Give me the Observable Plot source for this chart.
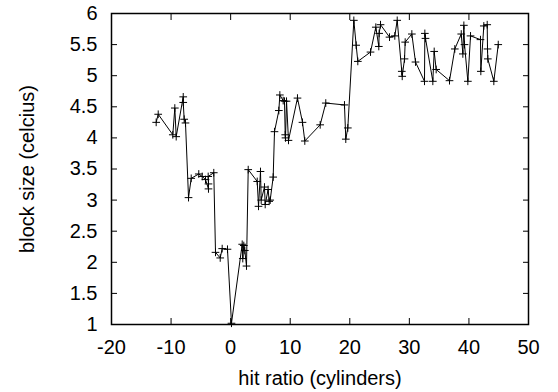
<!DOCTYPE html>
<html><head><meta charset="utf-8">
<script src="https://cdn.jsdelivr.net/npm/d3@7"></script>
<script src="https://cdn.jsdelivr.net/npm/@observablehq/plot@0.6"></script>
<style>html,body{margin:0;padding:0;background:#fff} svg{display:block}</style>
</head><body><div id="chart"></div>
<script>
const hitRatio = [
 -12.5, -12.16, -9.71, -9.37, -9.14, -7.96, -7.96, -7.80, -7.58, -7.07,
 -6.62, -5.35, -4.77, -4.22, -3.72, -3.72, -3.77, -2.83, -2.54, -1.75,
 -1.42, -0.53, 0.14, 1.94, 2.04, 2.21, 2.38, 2.66, 2.95, 4.46,
 4.68, 5.01, 5.13, 5.68, 5.80, 6.29, 6.47, 6.64, 7.14, 7.36,
 8.09, 8.26, 8.82, 9.04, 9.16, 9.21, 9.38, 9.71, 11.22, 12.06,
 12.45, 15.03, 15.97, 19.11, 19.33, 19.67, 20.68, 21.07, 21.35, 23.48,
 24.37, 24.87, 24.93, 25.16, 26.67, 27.56, 27.96, 28.73, 28.80, 29.19,
 29.30, 30.42, 31.03, 32.54, 32.60, 32.71, 33.94, 34.17, 34.50, 36.74,
 37.63, 38.71, 38.98, 39.15, 39.26, 39.82, 40.27, 41.94, 42.00, 42.50,
 43.07, 43.12, 43.17, 44.18, 44.92
];
const blockSize = [
 4.25, 4.38, 4.05, 4.48, 4.02, 4.66, 4.57, 4.30, 4.24, 3.04,
 3.35, 3.42, 3.38, 3.33, 3.18, 3.26, 3.38, 3.44, 2.16, 2.07,
 2.22, 2.21, 1.02, 2.29, 2.06, 2.27, 2.19, 1.94, 3.49, 3.30,
 2.90, 3.46, 3.00, 3.21, 2.93, 3.17, 2.98, 3.00, 3.37, 4.10,
 4.44, 4.69, 4.60, 4.59, 4.05, 4.00, 4.59, 3.96, 4.64, 4.25,
 3.95, 4.21, 4.56, 4.53, 3.98, 4.16, 5.89, 5.49, 5.23, 5.38,
 5.78, 5.47, 5.68, 5.82, 5.62, 5.64, 5.89, 5.07, 4.99, 5.27,
 5.54, 5.67, 5.22, 4.91, 5.68, 5.60, 4.91, 5.39, 5.10, 4.92,
 5.43, 5.67, 5.35, 5.81, 5.50, 4.91, 5.64, 5.58, 5.07, 5.80,
 5.82, 5.43, 5.27, 4.91, 5.50
];
const xTicks = [-20, -10, 0, 10, 20, 30, 40, 50];
const yTicks = [1, 1.5, 2, 2.5, 3, 3.5, 4, 4.5, 5, 5.5, 6];
const xLabel = "hit ratio (cylinders)";
const yLabel = "block size (celcius)";

const data = hitRatio.map((x, i) => ({x, y: blockSize[i]}));
const fmt = d => String(d);

const chart = Plot.plot({
  width: 558, height: 392,
  marginLeft: 111, marginRight: 30, marginTop: 13, marginBottom: 68,
  style: {fontFamily: "'Liberation Sans', Arial, sans-serif", fontSize: "20px", color: "#000", background: "#fff"},
  x: {domain: [-20, 50]},
  y: {domain: [1, 6]},
  marks: [
    Plot.axisX(xTicks, {anchor: "bottom", tickSize: 0, tickPadding: 15, tickFormat: fmt, label: null, fontSize: 20}),
    Plot.axisX(xTicks, {anchor: "bottom", tickSize: -6, tickFormat: () => "", label: null}),
    Plot.axisX(xTicks, {anchor: "top", tickSize: -6, tickFormat: () => "", label: null}),
    Plot.axisY(yTicks, {anchor: "left", tickSize: 0, tickPadding: 14, tickFormat: fmt, label: null, fontSize: 20}),
    Plot.axisY(yTicks, {anchor: "left", tickSize: -6, tickFormat: () => "", label: null}),
    Plot.axisY(yTicks, {anchor: "right", tickSize: -6, tickFormat: () => "", label: null}),
    Plot.line(data, {x: "x", y: "y", stroke: "#000", strokeWidth: 1}),
    Plot.dot(data, {x: "x", y: "y", symbol: "plus", r: 2.6, stroke: "#000", strokeWidth: 1}),
    Plot.frame({stroke: "#000", strokeWidth: 1.5}),
    Plot.text([xLabel], {text: d => d, frameAnchor: "bottom", dy: 54, lineAnchor: "middle", textAnchor: "middle", fontSize: 20, fill: "#000"}),
    Plot.text([yLabel], {text: d => d, frameAnchor: "left", dx: -84, rotate: -90, textAnchor: "middle", lineAnchor: "middle", fontSize: 20, fill: "#000"})
  ]
});
document.getElementById("chart").appendChild(chart);
</script>
</body></html>
